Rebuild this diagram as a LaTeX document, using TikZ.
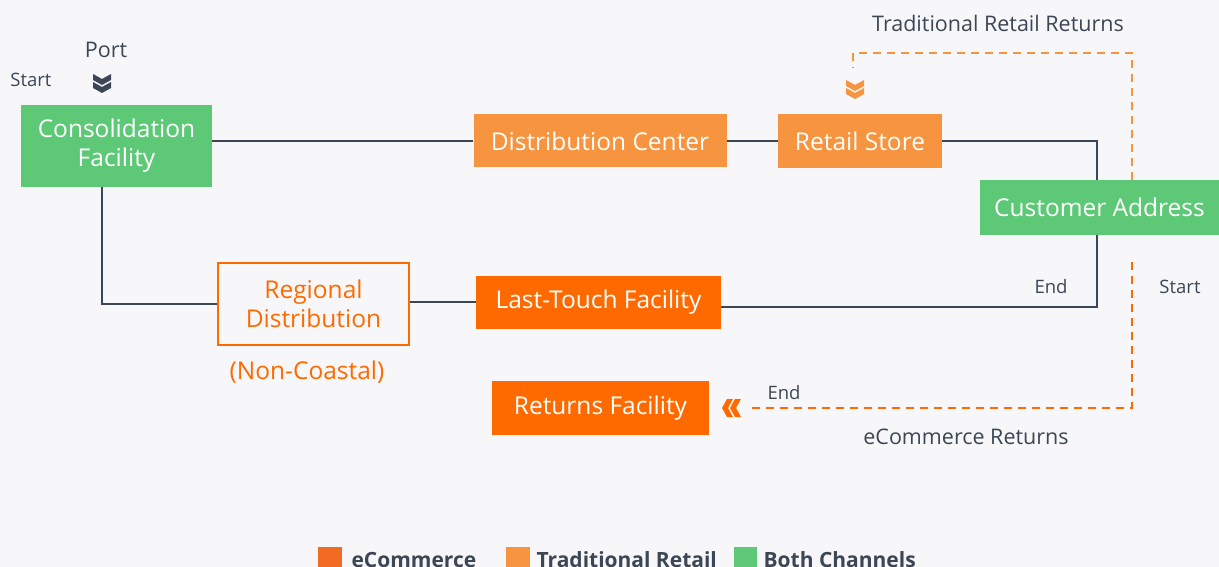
\documentclass[tikz,border=0pt]{standalone}
\usepackage{fontspec}
\setmainfont{Open Sans}
\usetikzlibrary{positioning}
\definecolor{bgcol}{HTML}{F7F7F9}
\definecolor{bothgreen}{HTML}{5DC977}
\definecolor{retailorange}{HTML}{F7943F}
\definecolor{ecomorange}{HTML}{FF6A00}
\definecolor{legendorange}{HTML}{F26B23}
\definecolor{routegray}{HTML}{3C4654}
\tikzset{
  box/.style={inner sep=0pt, text=white, align=center,
    font=\fontsize{24.5}{29}\selectfont},
  bothbox/.style={box, fill=bothgreen},
  retailbox/.style={box, fill=retailorange},
  ecombox/.style={box, fill=ecomorange},
  route/.style={draw=routegray, line width=2.7pt},
  retailreturn/.style={draw=retailorange, line width=2.7pt, dash pattern=on 8pt off 6pt},
  ecomreturn/.style={draw=ecomorange, line width=2.7pt, dash pattern=on 8pt off 6pt},
  lbl/.style={text=routegray, font=\fontsize{21.5}{25}\selectfont},
  smalllbl/.style={text=routegray, font=\fontsize{18.5}{22}\selectfont},
  keytext/.style={text=routegray, anchor=west, font=\fontsize{21}{24}\bfseries},
  double chevron/.pic={
    \fill[pic actions] (-9,0) -- (0,5) -- (9,0) -- (9,6) -- (0,11) -- (-9,6) -- cycle;
    \fill[pic actions] (-9,8) -- (0,13) -- (9,8) -- (9,14) -- (0,19) -- (-9,14) -- cycle;
  },
}
\begin{document}
\begin{tikzpicture}[x=1pt, y=-1pt]
  \fill[bgcol] (0,0) rectangle (1219,567);
  \useasboundingbox (0,0) rectangle (1219,567);

  % boxes
  \node[bothbox, minimum width=191pt, minimum height=82pt] (consol) at (116.5,146) {Consolidation\\Facility};
  \node[retailbox, minimum width=253pt, minimum height=53pt] (distc) at (600,141) {Distribution Center};
  \node[retailbox, minimum width=164pt, minimum height=54pt] (store) at (860,141) {Retail Store};
  \node[bothbox, minimum width=239pt, minimum height=55pt] (cust) at (1099.5,207.5) {Customer Address};
  \node[box, draw=ecomorange, line width=2pt, text=ecomorange, minimum width=191pt, minimum height=82pt] (regional) at (313.5,304) {Regional\\Distribution};
  \node[ecombox, minimum width=245pt, minimum height=53pt] (lasttouch) at (598.5,302) {Last-Touch Facility};
  \node[ecombox, minimum width=217pt, minimum height=54pt] (returns) at (600.5,408) {Returns Facility};

  % routes
  \draw[route] (consol.east |- distc.west) -- (distc.west);
  \draw[route] (distc) -- (store);
  \draw[route] (store.east) -| ([xshift=-2.5pt]cust.north);
  \draw[route] ([xshift=-2.5pt]cust.south) |- ([yshift=-5pt]lasttouch.east);
  \draw[route] (lasttouch.west) -- (regional.east |- lasttouch.west);
  \draw[route] (regional.west) -| ([xshift=-14.5pt]consol.south);

  % returns
  \coordinate (rtop) at (853,68);
  \coordinate (estart) at (1132,262);
  \coordinate (eend) at (750,408);
  \draw[retailreturn] ([xshift=32.5pt]cust.north) |- (rtop |- 0,53) -- (rtop);
  \draw[ecomreturn] (estart) |- (eend);
  \pic[fill=retailorange] at (855,80) {double chevron};
  \pic[fill=ecomorange, rotate=-90] at (741,408) {double chevron};
  \pic[fill=routegray] at (102,74) {double chevron};

  % labels
  \node[lbl] (port) at (106,50) {Port};
  \node[smalllbl] (start1) at (31,80) {Start};
  \node[lbl] (retlbl) at (998,23) {Traditional Retail Returns};
  \node[smalllbl] (end1) at (1051,287) {End};
  \node[smalllbl] (start2) at (1180,287) {Start};
  \node[smalllbl] (end2) at (784,393) {End};
  \node[lbl] (ecomlbl) at (966,437) {eCommerce Returns};
  \node[text=ecomorange, font=\fontsize{24.5}{29}\selectfont] (noncoastal) at (307,372) {(Non-Coastal)};

  % legend
  \fill[legendorange] (318,547) rectangle (342,567);
  \node[keytext] (keyecom) at (348,560) {eCommerce};
  \fill[retailorange] (506,547) rectangle (530,567);
  \node[keytext] (keyretail) at (533,560) {Traditional Retail};
  \fill[bothgreen] (734,547) rectangle (757,567);
  \node[keytext] (keyboth) at (760,560) {Both Channels};
\end{tikzpicture}
\end{document}
